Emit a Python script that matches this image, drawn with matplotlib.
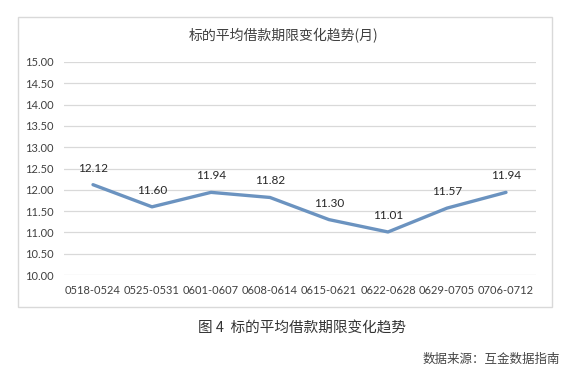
import matplotlib.pyplot as plt
from matplotlib.patches import Rectangle

plt.rcParams['font.family'] = ['Noto Sans CJK SC', 'DejaVu Sans']

weeks = ['0518-0524', '0525-0531', '0601-0607', '0608-0614',
         '0615-0621', '0622-0628', '0629-0705', '0706-0712']
avg_term = [12.12, 11.60, 11.94, 11.82, 11.30, 11.01, 11.57, 11.94]
y_ticks = [10.0, 10.5, 11.0, 11.5, 12.0, 12.5, 13.0, 13.5, 14.0, 14.5, 15.0]

W, H = 571, 385
fig = plt.figure(figsize=(W / 100, H / 100), dpi=100)
fig.patch.set_facecolor('white')

# chart frame (excel style)
fig.patches.append(Rectangle((18 / W, 1 - 307 / H), 534 / W, 290 / H,
                             transform=fig.transFigure, fill=False,
                             edgecolor='#d9d9d9', linewidth=1))

ax = fig.add_axes([63.5 / W, 1 - 275 / H, 472 / W, 213 / H])
x = list(range(len(weeks)))
ax.plot(x, avg_term, color='#6b93c0', linewidth=2.4, solid_capstyle='round')
num_font = ['Lato', 'DejaVu Sans']
for xi, v in zip(x, avg_term):
    ax.annotate(f'{v:.2f}', (xi, v), xytext=(0, 8), textcoords='offset points',
                ha='center', va='bottom', fontsize=8.5, color='#262626', family=num_font)

ax.set_ylim(10, 15)
ax.set_yticks(y_ticks)
ax.set_yticklabels([f'{t:.2f}' for t in y_ticks], fontsize=8, color='#404040', family=num_font)
ax.set_xlim(-0.5, len(weeks) - 0.5)
ax.set_xticks(x)
ax.set_xticklabels(weeks, fontsize=8, color='#404040', family=num_font)
ax.tick_params(axis='y', length=0, pad=7)
ax.tick_params(axis='x', length=0, pad=7)
ax.grid(axis='y', color='#d9d9d9', linewidth=0.9)
ax.set_axisbelow(True)
for s in ax.spines.values():
    s.set_visible(False)

fig.text(284 / W, 1 - 36 / H, '标的平均借款期限变化趋势(月)', ha='center', va='center',
         fontsize=10, color='#404040')
fig.text(302 / W, 1 - 329 / H, '图 4  标的平均借款期限变化趋势', ha='center', va='center',
         fontsize=10.5, color='#333333')
fig.text(560 / W, 1 - 359 / H, '数据来源：互金数据指南', ha='right', va='center',
         fontsize=9, color='#444444')

fig.savefig('out.png', dpi=100)
